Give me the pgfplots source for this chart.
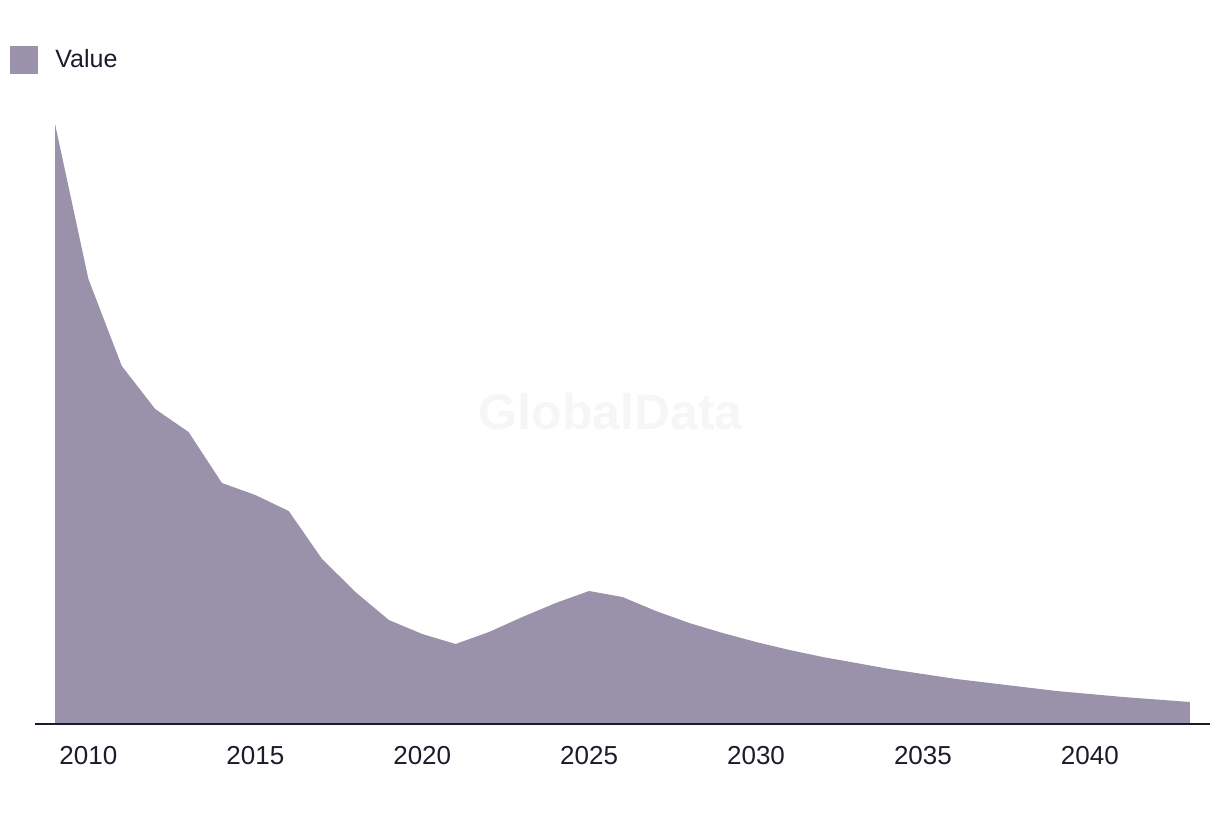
\documentclass[border=0pt]{standalone}
\usepackage{pgfplots}
\pgfplotsset{compat=1.18}
\usepackage{fontspec}
\setmainfont{Liberation Sans}

\definecolor{areacol}{RGB}{154,145,170}
\definecolor{inkcol}{RGB}{28,27,44}
\definecolor{wmark}{RGB}{246,246,246}

\begin{document}
\begin{tikzpicture}
\begin{axis}[
    scale only axis,
    width=587.5pt,
    height=312pt,
    xmin=2008.4, xmax=2043.6,
    ymin=0, ymax=624,
    axis x line=bottom,
    axis y line=none,
    axis on top,
    axis line style={inkcol, line width=1.1pt, -},
    xtick={2010,2015,...,2040},
    major tick length=0pt,
    xticklabel style={font=\fontsize{13}{15}\selectfont, text=inkcol, yshift=-7.5pt},
    /pgf/number format/1000 sep={},
    /pgf/number format/assume math mode=true,
    clip=false,
    legend style={at={(axis description cs:0,1)}, anchor=north west,
        xshift=-15.5pt, yshift=29.5pt, draw=none, fill=none,
        font=\fontsize{12.5}{14}\selectfont, text=inkcol},
    legend cell align=left,
]
\node[text=wmark, font=\bfseries\fontsize{25}{28}\selectfont]
    at (axis description cs:0.49,0.5) {GlobalData};

\addplot[fill=areacol, draw=none, area legend,
    legend image code/.code={\fill[areacol] (0pt,-7pt) rectangle (14pt,7pt);
        \path[draw=none, fill=none] (0pt,0pt) -- (20.5pt,0pt);}]
coordinates {
(2009,600) (2010,445) (2011,358) (2012,315) (2013,292) (2014,241)
(2015,229) (2016,213) (2017,165) (2018,132) (2019,104) (2020,90)
(2021,80) (2022,92) (2023,107) (2024,121) (2025,133) (2026,127)
(2027,113) (2028,101) (2029,91) (2030,82) (2031,74) (2032,67)
(2033,61) (2034,55) (2035,50) (2036,45) (2037,41) (2038,37)
(2039,33) (2040,30) (2041,27) (2042,24.5) (2043,22)
} \closedcycle;
\addlegendentry{Value}

\coordinate (sw) at (rel axis cs:0,0);
\coordinate (ne) at (rel axis cs:1,1);
\end{axis}
\useasboundingbox ([shift={(-17.5pt,-46pt)}]sw) rectangle ([shift={(5pt,50pt)}]ne);
\end{tikzpicture}
\end{document}
